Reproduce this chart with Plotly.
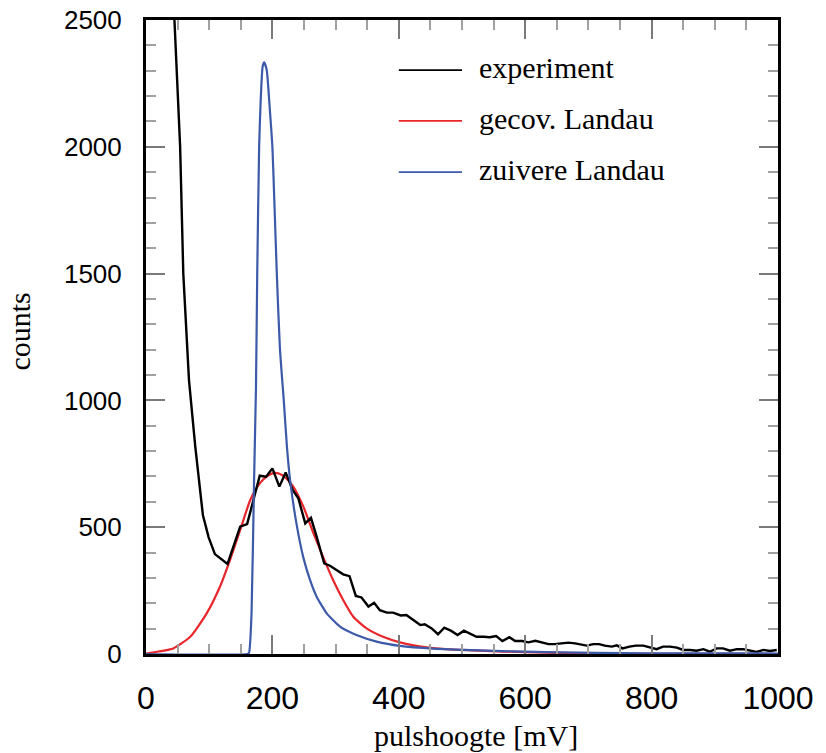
import plotly.graph_objects as go

# ---------------- data ----------------
exp_x = [45, 54, 59, 64, 68, 78, 90, 99, 109, 129, 149, 160, 180, 190, 200, 211, 221, 232, 241, 252,
         261, 270, 282, 291, 302, 312, 322, 332, 341, 352, 361, 370, 381, 391, 403, 412, 423, 434, 441,
         452, 462, 472, 483, 493, 503, 513, 523, 534, 544, 554, 564, 575, 584, 595, 605, 616, 626, 637,
         647, 658, 668, 679, 687, 697, 708, 717, 726, 737, 745, 754, 765, 775, 787, 797, 808, 818, 829,
         840, 850, 861, 871, 882, 892, 903, 913, 924, 935, 945, 956, 966, 977, 987, 998]
exp_y = [2500, 2000, 1500, 1265, 1080, 817, 548, 461, 394, 355, 502, 512, 703, 699, 732, 660, 716, 647,
         614, 515, 537, 463, 357, 348, 331, 314, 307, 229, 223, 187, 202, 173, 163, 163, 152, 154, 134,
         114, 117, 101, 78, 104, 91, 75, 92, 79, 68, 68, 66, 71, 51, 66, 51, 51, 46, 52, 46, 39, 39, 42,
         45, 42, 37, 33, 39, 39, 33, 29, 34, 22, 29, 33, 33, 25, 19, 29, 29, 25, 16, 16, 13, 19, 9, 22,
         22, 13, 19, 19, 13, 8, 16, 12, 16]

conv_x = [0, 20, 43, 70, 96, 117, 133, 149, 165, 180, 192, 203, 212, 220, 233, 249, 265, 280, 296, 312,
          328, 349, 375, 402, 444, 481, 528, 600, 700, 800, 1000]
conv_y = [2, 10, 22, 68, 160, 265, 371, 489, 607, 673, 702, 714, 710, 697, 660, 581, 476, 384, 292, 213,
          147, 101, 68, 46, 26, 18, 13, 7, 3, 1, 0]

pure_x = [0, 160, 163, 167, 171, 174, 176, 179, 181.5, 184.5, 187, 191, 196, 200, 203, 207, 212, 218,
          223, 228, 238, 249, 259.5, 270, 286, 307, 333, 365, 402, 455, 528, 633, 791, 1000]
pure_y = [0, 0, 5, 160, 686, 1050, 1500, 2000, 2185, 2316, 2333, 2303, 2145, 2000, 1790, 1500, 1199,
          1000, 817, 686, 515, 380, 292, 226, 160, 108, 75, 49, 32, 21, 14, 7, 3, 2]

x_ticks = [0, 200, 400, 600, 800, 1000]
y_ticks = [0, 500, 1000, 1500, 2000, 2500]

names = ["experiment", "gecov. Landau", "zuivere Landau"]
colors = ["#000000", "#e8262b", "#3d5aa9"]

# ---------------- figure ----------------
fig = go.Figure()
fig.add_trace(go.Scatter(x=conv_x, y=conv_y, mode="lines", name=names[1],
                         line=dict(color=colors[1], width=2.2, shape="spline", smoothing=0.6),
                         showlegend=False, cliponaxis=False))
fig.add_trace(go.Scatter(x=exp_x, y=exp_y, mode="lines", name=names[0],
                         line=dict(color=colors[0], width=2.4), showlegend=False))
fig.add_trace(go.Scatter(x=pure_x, y=pure_y, mode="lines", name=names[2],
                         line=dict(color=colors[2], width=2.2, shape="spline", smoothing=0.5),
                         showlegend=False, cliponaxis=False))

serif = "Liberation Serif, Times New Roman, serif"

axis_common = dict(
    showgrid=False, zeroline=False, automargin=False,
    showline=True, linecolor="black", linewidth=3, mirror="allticks",
    ticks="inside", ticklen=19, tickwidth=1.5, tickcolor="#7a7a7a",
)

fig.update_xaxes(range=[0, 1000], tickvals=x_ticks, ticktext=[str(v) for v in x_ticks],
                 tickfont=dict(family="Liberation Sans, Arial, sans-serif", size=32, color="black"),
                 ticklabelstandoff=14,
                 minor=dict(ticks="inside", ticklen=10, tickwidth=1.5, tickcolor="#a0a0a0",
                            dtick=50, tick0=0),
                 **axis_common)
fig.update_yaxes(range=[0, 2500], tickvals=y_ticks, ticktext=[str(v) for v in y_ticks],
                 tickfont=dict(family="Liberation Sans, Arial, sans-serif", size=26, color="black"),
                 ticklabelstandoff=16,
                 minor=dict(ticks="inside", ticklen=10, tickwidth=1.5, tickcolor="#a0a0a0",
                            dtick=100, tick0=0),
                 **axis_common)

# axis titles
annotations = [
    dict(text="pulshoogte [mV]", x=0.522, y=-0.128, xref="paper", yref="paper",
         xanchor="center", yanchor="middle", showarrow=False,
         font=dict(family=serif, size=30, color="black")),
    dict(text="counts", x=-0.2, y=0.508, xref="paper", yref="paper", textangle=-90,
         xanchor="center", yanchor="middle", showarrow=False,
         font=dict(family=serif, size=30, color="black")),
]

# legend (drawn in paper coordinates)
shapes = []
leg_rows = [0.921, 0.841, 0.760]
for name, col, yy in zip(names, colors, leg_rows):
    shapes.append(dict(type="line", xref="paper", yref="paper", x0=0.400, x1=0.500, y0=yy, y1=yy,
                       line=dict(color=col, width=1.8)))
    annotations.append(dict(text=name, x=0.524, y=yy + 0.004, xref="paper", yref="paper",
                            xanchor="left", yanchor="middle", showarrow=False,
                            font=dict(family=serif, size=30, color="black")))

fig.update_layout(
    width=826, height=753,
    margin=dict(l=146, r=48, t=20, b=99),
    paper_bgcolor="white", plot_bgcolor="white",
    annotations=annotations, shapes=shapes,
    showlegend=False,
)

fig.write_html("out.html", config={"displayModeBar": False},
               post_script="document.body.style.margin='0';document.body.style.overflow='hidden';")
